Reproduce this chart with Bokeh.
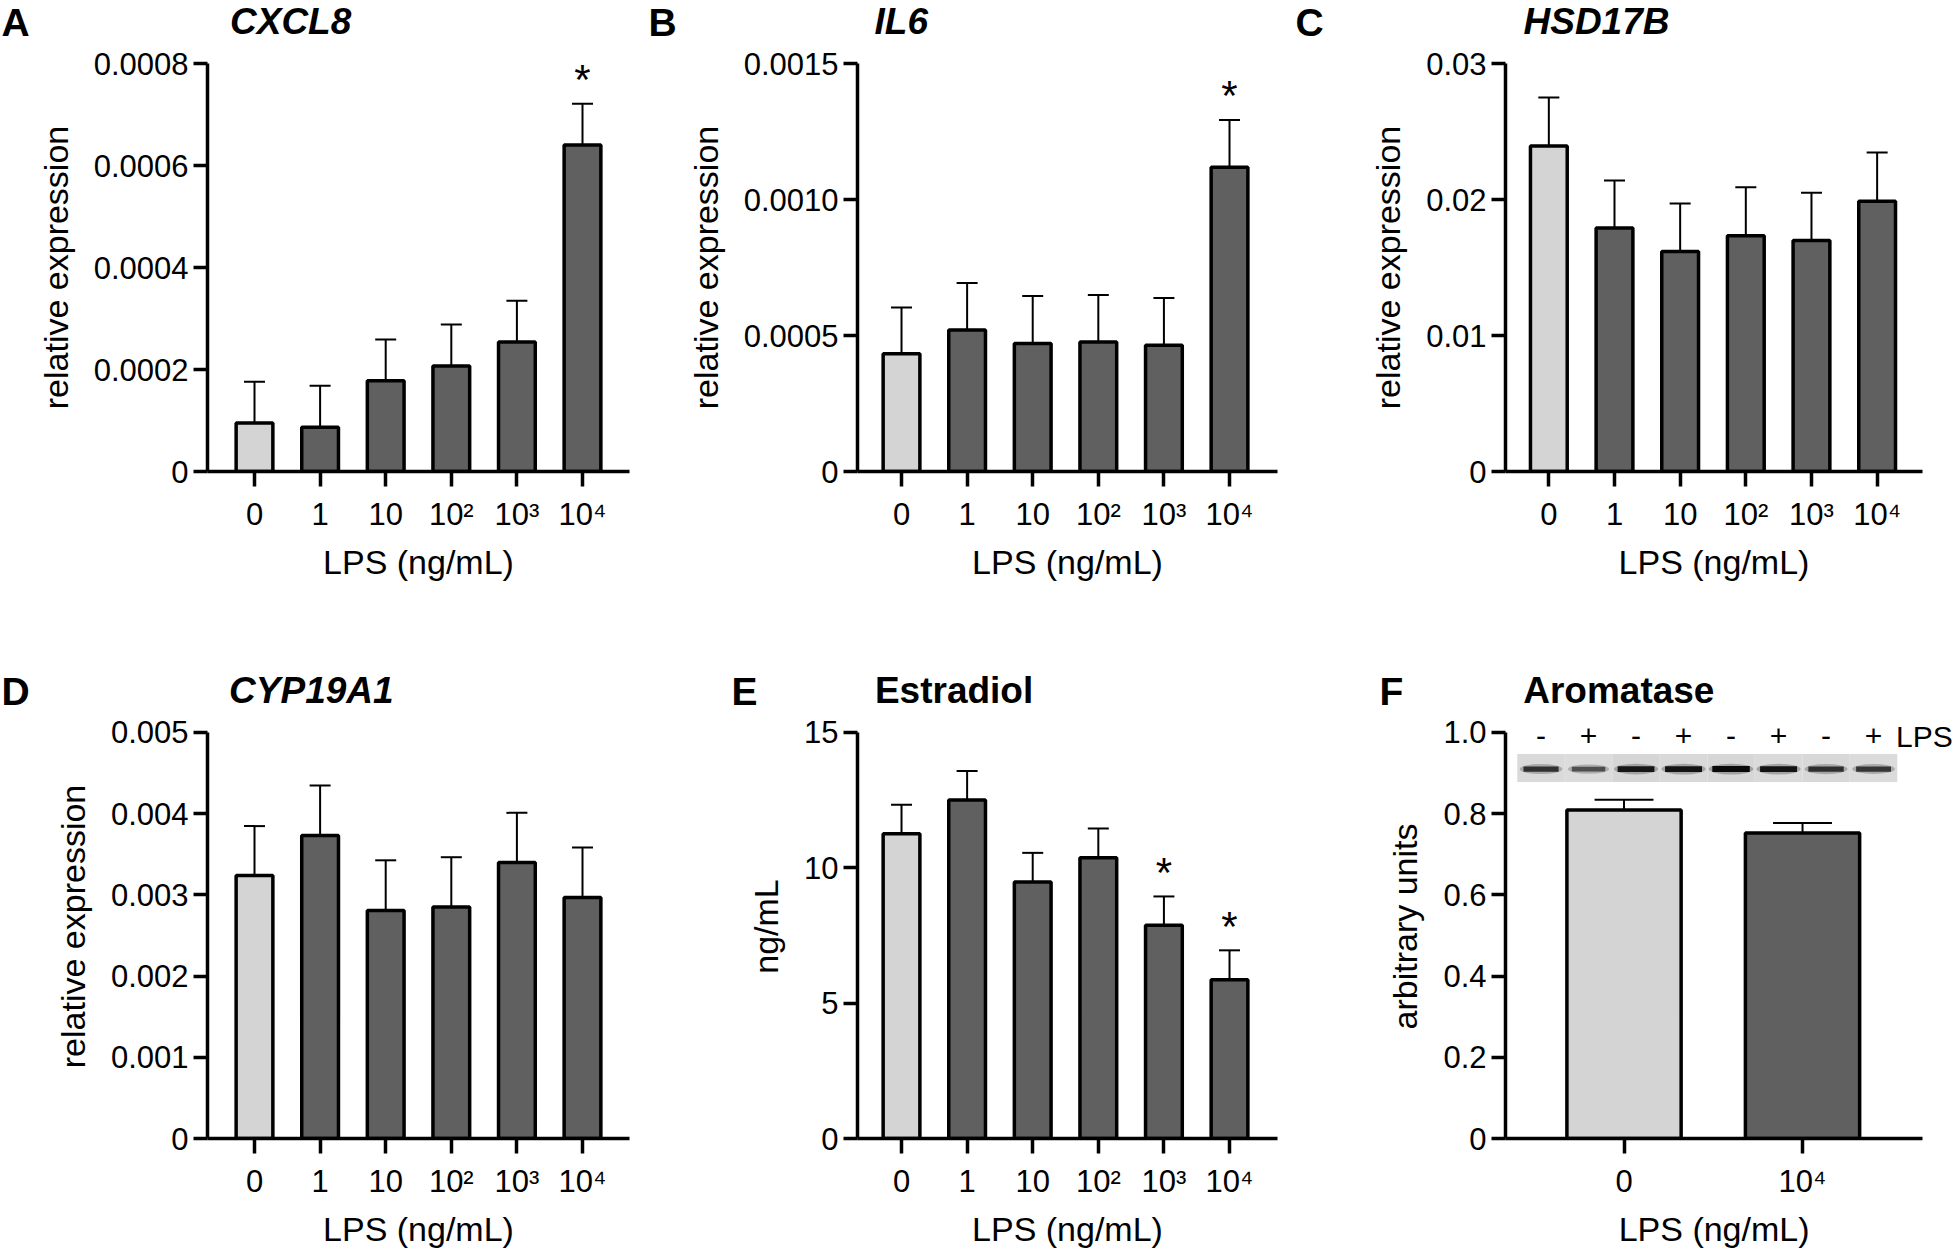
from bokeh.plotting import figure
from bokeh.models import Range1d, FixedTicker, ColumnDataSource
from bokeh.layouts import row, column
from bokeh.embed import file_html
from bokeh.resources import INLINE
from bokeh.core.properties import value

FONT = "Liberation Sans"
LIGHT = "#d4d4d4"
DARK = "#606060"
BASE_FIX = 0.36  # measured shift (in em) between requested and drawn text baseline

# ---------------- data ----------------
lps_labels = ["0", "1", "10", "10²", "10³", "10⁴"]

cxcl8_mean = [0.000095, 0.000087, 0.000178, 0.000207, 0.000254, 0.000640]
cxcl8_sem = [0.000081, 0.000081, 0.000081, 0.000081, 0.000081, 0.000081]
cxcl8_ticks = [0, 0.0002, 0.0004, 0.0006, 0.0008]
cxcl8_ticklabels = ["0", "0.0002", "0.0004", "0.0006", "0.0008"]
cxcl8_stars = [5]

il6_mean = [0.000433, 0.000520, 0.000471, 0.000476, 0.000464, 0.001119]
il6_sem = [0.000170, 0.000173, 0.000174, 0.000173, 0.000174, 0.000173]
il6_ticks = [0, 0.0005, 0.001, 0.0015]
il6_ticklabels = ["0", "0.0005", "0.0010", "0.0015"]
il6_stars = [5]

hsd_mean = [0.02394, 0.01790, 0.01617, 0.01734, 0.01698, 0.01988]
hsd_sem = [0.00356, 0.00350, 0.00353, 0.00356, 0.00352, 0.00357]
hsd_ticks = [0, 0.01, 0.02, 0.03]
hsd_ticklabels = ["0", "0.01", "0.02", "0.03"]
hsd_stars = []

cyp_mean = [0.003238, 0.003729, 0.002808, 0.002850, 0.003397, 0.002967]
cyp_sem = [0.000608, 0.000617, 0.000617, 0.000613, 0.000612, 0.000617]
cyp_ticks = [0, 0.001, 0.002, 0.003, 0.004, 0.005]
cyp_ticklabels = ["0", "0.001", "0.002", "0.003", "0.004", "0.005"]
cyp_stars = []

e2_mean = [11.26, 12.50, 9.47, 10.37, 7.88, 5.86]
e2_sem = [1.07, 1.07, 1.08, 1.08, 1.06, 1.09]
e2_ticks = [0, 5, 10, 15]
e2_ticklabels = ["0", "5", "10", "15"]
e2_stars = [4, 5]

aro_labels = ["0", "10⁴"]
aro_mean = [0.809, 0.752]
aro_sem = [0.025, 0.025]
aro_ticks = [0, 0.2, 0.4, 0.6, 0.8, 1.0]
aro_ticklabels = ["0", "0.2", "0.4", "0.6", "0.8", "1.0"]

blot_lps = ["-", "+", "-", "+", "-", "+", "-", "+"]
blot_band = [0.78, 0.62, 0.93, 0.95, 1.00, 0.95, 0.80, 0.76]
blot_bg = ["#dadada", "#dcdcdc", "#d6d6d6", "#d9d9d9", "#d7d7d7", "#dadada", "#d8d8d8", "#dbdbdb"]

letters_row1 = ["A", "B", "C"]
titles_row1 = ["CXCL8", "IL6", "HSD17B"]
letters_row2 = ["D", "E", "F"]
titles_row2 = ["CYP19A1", "Estradiol", "Aromatase"]
titles_row2_italic = [True, False, False]

# ---------------- layout geometry (pixels) ----------------
TOTAL_W = 1960
LETTER_PX = 39
TITLE_PX = 37


def header(h, letters, lx, lbase, titles, tx, tbase, italics):
    p = figure(width=TOTAL_W, height=h, x_range=Range1d(0, TOTAL_W), y_range=Range1d(h, 0),
               min_border=0, toolbar_location=None, output_backend="svg",
               x_axis_type=None, y_axis_type=None,
               background_fill_color="white", border_fill_color="white")
    p.outline_line_color = None
    p.grid.visible = False
    p.text(x=lx, y=[lbase - BASE_FIX * LETTER_PX] * len(letters), text=letters,
           text_font=value(FONT), text_font_size=f"{LETTER_PX}px", text_font_style="bold",
           text_color="black", text_align="left", text_baseline="alphabetic")
    for x, t, it in zip(tx, titles, italics):
        p.text(x=[x], y=[tbase - BASE_FIX * TITLE_PX], text=[t], text_font=value(FONT),
               text_font_size=f"{TITLE_PX}px",
               text_font_style="bold italic" if it else "bold", text_color="black",
               text_align="left", text_baseline="alphabetic")
    return p


def panel(s, labels, means, sems, yticks, yticklabels, ylab, bar_w, cap_half, stars,
          xlab="LPS (ng/mL)", axis_px=None, extra_top=0):
    FH = s["H"]
    R = s["fw"] - s["L"] - s["W"]
    B = s["fh"] - s["T"] - FH
    yend = s["ytop"] * (FH + extra_top) / FH
    p = figure(width=s["fw"], height=s["fh"],
               x_range=Range1d(s["x0"], s["x1"]), y_range=Range1d(0, yend),
               min_border_left=s["L"], min_border_right=R,
               min_border_top=s["T"] - extra_top, min_border_bottom=B,
               toolbar_location=None, output_backend="svg",
               background_fill_color="white", border_fill_color="white")
    p.outline_line_color = None
    p.xgrid.visible = False
    p.ygrid.visible = False

    n = len(means)
    xs = list(range(n))
    tops = [m + e for m, e in zip(means, sems)]
    src = ColumnDataSource(dict(
        x=xs, top=means, err=tops,
        cl=[x - cap_half for x in xs], cr=[x + cap_half for x in xs],
        color=[LIGHT] + [DARK] * (n - 1)))
    p.segment(x0="x", y0="top", x1="x", y1="err", source=src,
              line_color="black", line_width=2)
    p.segment(x0="cl", y0="err", x1="cr", y1="err", source=src,
              line_color="black", line_width=2)
    p.vbar(x="x", top="top", bottom=0, width=bar_w, source=src,
           fill_color="color", line_color="black", line_width=3.5)

    ax = p.xaxis[0]
    ax.ticker = FixedTicker(ticks=xs)
    ax.major_label_overrides = {i: lab for i, lab in enumerate(labels)}
    ax.axis_label = xlab
    if axis_px is not None:
        ax.bounds = (s["x0"], s["x0"] + axis_px * (s["x1"] - s["x0"]) / s["W"])
    ay = p.yaxis[0]
    ay.ticker = FixedTicker(ticks=yticks)
    ay.major_label_overrides = dict(zip(yticks, yticklabels))
    ay.axis_label = ylab
    if extra_top:
        ay.bounds = (0, s["ytop"])
    for a in (ax, ay):
        a.axis_line_width = 3.5
        a.axis_line_color = "black"
        a.major_tick_line_width = 3.5
        a.major_tick_line_color = "black"
        a.minor_tick_line_color = None
        a.major_tick_in = 0
        a.major_label_text_font = FONT
        a.major_label_text_font_size = "31px"
        a.major_label_text_color = "black"
        a.axis_label_text_font = FONT
        a.axis_label_text_font_size = "34px"
        a.axis_label_text_font_style = "normal"
        a.axis_label_text_color = "black"
    ax.major_tick_out = 15
    ax.major_label_standoff = 10
    ax.axis_label_standoff = 8
    ay.major_tick_out = 14
    ay.major_label_standoff = 5
    ay.axis_label_standoff = 16

    if stars:
        lift = (9 + BASE_FIX * 42) * s["ytop"] / FH
        p.text(x=stars, y=[tops[i] + lift for i in stars],
               text=["*"] * len(stars), text_font=value(FONT), text_font_size="42px",
               text_color="black", text_align="center", text_baseline="alphabetic")
    return p


PPU = 65.6
R1 = dict(fh=585, T=18, H=408)
R2 = dict(fh=536, T=18, H=409)
EXTRA2 = 18  # row-2 frames reach the top of their figures (axis lines stop at top tick)


def spec(fw, L, W, x0, ppu, r, ytop):
    d = dict(fw=fw, L=L, W=W, x0=x0, x1=x0 + W / ppu, ytop=ytop)
    d.update(r)
    return d


sA = spec(640, 207, 422, -0.7165, PPU, R1, 0.0008)
sB = spec(650, 217, 420, -0.671, PPU, R1, 0.0015)
sC = spec(670, 215, 417, -0.660, 65.66, R1, 0.03)
sD = spec(640, 207, 422, -0.7165, PPU, R2, 0.005)
sE = spec(650, 217, 420, -0.671, PPU, R2, 15)
sF = spec(670, 215, 455, -0.664, 178.5, R2, 1.0)

pA = panel(sA, lps_labels, cxcl8_mean, cxcl8_sem, cxcl8_ticks, cxcl8_ticklabels,
           "relative expression", 0.56, 0.16, cxcl8_stars)
pB = panel(sB, lps_labels, il6_mean, il6_sem, il6_ticks, il6_ticklabels,
           "relative expression", 0.56, 0.16, il6_stars)
pC = panel(sC, lps_labels, hsd_mean, hsd_sem, hsd_ticks, hsd_ticklabels,
           "relative expression", 0.56, 0.16, hsd_stars)
pD = panel(sD, lps_labels, cyp_mean, cyp_sem, cyp_ticks, cyp_ticklabels,
           "relative expression", 0.56, 0.16, cyp_stars, extra_top=EXTRA2)
pE = panel(sE, lps_labels, e2_mean, e2_sem, e2_ticks, e2_ticklabels,
           "ng/mL", 0.56, 0.16, e2_stars, extra_top=EXTRA2)
# frame of F reaches the right edge (room for the blot's "LPS"); the x axis line stops
# at 417 px; trailing no-break spaces keep the axis title centred under the drawn axis
pF = panel(sF, aro_labels, aro_mean, aro_sem, aro_ticks, aro_ticklabels,
           "arbitrary units", 0.64, 0.165, [],
           xlab="LPS (ng/mL)" + "\u00a0" * 4, axis_px=417, extra_top=EXTRA2)

# western blot inset in panel F
FHF = sF["H"]
nl = len(blot_band)
bx0, bx1 = -0.598, 1.531
lw = (bx1 - bx0) / nl
lane_l = [bx0 + i * lw for i in range(nl)]
lane_r = [bx0 + (i + 1) * lw for i in range(nl)]
lane_c = [bx0 + (i + 0.5) * lw for i in range(nl)]
band_y = 0.9096
pF.quad(left=lane_l, right=lane_r, bottom=0.8777, top=0.9465,
        fill_color=blot_bg, line_color=None)
halo_col = ["#%02x%02x%02x" % ((int(175 - 50 * b),) * 3) for b in blot_band]
core_col = ["#%02x%02x%02x" % ((int(190 - 180 * b),) * 3) for b in blot_band]
pF.ellipse(x=lane_c, y=band_y, width=[0.20 + 0.05 * b for b in blot_band],
           height=[(7 + 4 * b) / FHF for b in blot_band],
           fill_color=halo_col, fill_alpha=0.6, line_color=None)
pF.rect(x=lane_c, y=band_y, width=[0.15 + 0.06 * b for b in blot_band],
        height=[(3 + 3 * b) / FHF for b in blot_band],
        fill_color=core_col, line_color=None)
lbl_y = 0.952 + (5 + BASE_FIX * 30) / FHF
pF.text(x=lane_c, y=[lbl_y] * nl, text=blot_lps, text_font=value(FONT), text_font_size="30px",
        text_color="black", text_align="center", text_baseline="alphabetic")
pF.text(x=[1.524], y=[lbl_y], text=["LPS"], text_font=value(FONT), text_font_size="30px",
        text_color="black", text_align="left", text_baseline="alphabetic")

h1 = header(45, letters_row1, [1, 648, 1295], 36, titles_row1, [229.5, 874, 1523], 34.5,
            [True, True, True])
h2 = header(84, letters_row2, [1, 731, 1379], 75, titles_row2, [228.6, 874.4, 1522.7], 73,
            titles_row2_italic)

layout = column(h1, row(pA, pB, pC), h2, row(pD, pE, pF))
open("out.html", "w").write(file_html(layout, INLINE))
